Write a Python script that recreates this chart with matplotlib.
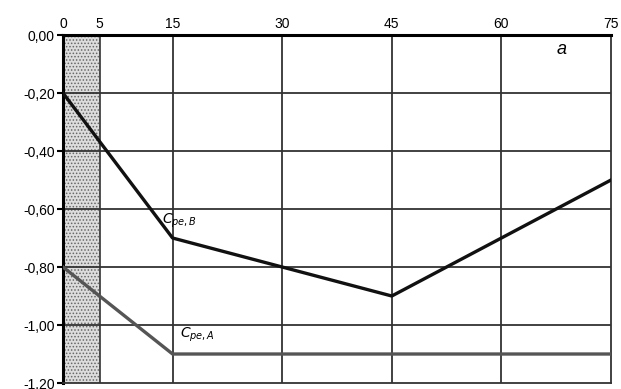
import matplotlib.pyplot as plt
from matplotlib.ticker import FuncFormatter

plt.rcParams['font.family'] = ['Liberation Sans', 'DejaVu Sans']
plt.rcParams['hatch.color'] = '#666666'
plt.rcParams['hatch.linewidth'] = 0.7

# roof pitch angle and external pressure coefficients
angle_b = [0, 15, 45, 75]
cpe_b = [-0.2, -0.7, -0.9, -0.5]
angle_a = [0, 15, 75]
cpe_a = [-0.8, -1.1, -1.1]
x_ticks = [0, 5, 15, 30, 45, 60, 75]
y_ticks = [0, -0.2, -0.4, -0.6, -0.8, -1.0, -1.2]

fig = plt.figure(figsize=(6.21, 3.89), dpi=100)
ax = fig.add_axes([0.1014, 0.0154, 0.8825, 0.8946])

# stippled zone 0..5
ax.axvspan(0, 5, facecolor='#dcdcdc', edgecolor='#666666', hatch='.....', lw=0, zorder=1)
ax.axvline(5, color='#333333', lw=1.2, zorder=2)

for x in [15, 30, 45, 60]:
    ax.axvline(x, color='#333333', lw=1.3, zorder=2)
for y in y_ticks[1:-1]:
    ax.axhline(y, color='#333333', lw=1.3, zorder=2)

ax.plot(angle_b, cpe_b, color='#111111', lw=2.4, zorder=4)
ax.plot(angle_a, cpe_a, color='#555555', lw=2.4, zorder=4)

ax.text(13.6, -0.64, r'$C_{pe,B}$', fontsize=10, va='center', ha='left', zorder=5)
ax.text(16.0, -1.035, r'$C_{pe,A}$', fontsize=10, va='center', ha='left', zorder=5)
ax.text(67.5, -0.05, 'a', fontsize=13, style='italic', va='center', ha='left')

ax.set_xlim(0, 75)
ax.set_ylim(-1.2, 0)
ax.set_xticks(x_ticks)
ax.set_yticks(y_ticks)
ax.xaxis.tick_top()
ax.yaxis.set_major_formatter(FuncFormatter(lambda v, p: f'{v:.2f}'.replace('.', ',').replace('-0,00', '0,00')))
ax.tick_params(axis='x', length=0, pad=3, labelsize=10)
ax.tick_params(axis='y', length=4, width=1.5, pad=2, labelsize=10)

for s in ['top', 'left']:
    ax.spines[s].set_linewidth(2.2)
for s in ['right', 'bottom']:
    ax.spines[s].set_linewidth(1.3)
    ax.spines[s].set_color('#333333')

fig.savefig('out.png', dpi=100)
